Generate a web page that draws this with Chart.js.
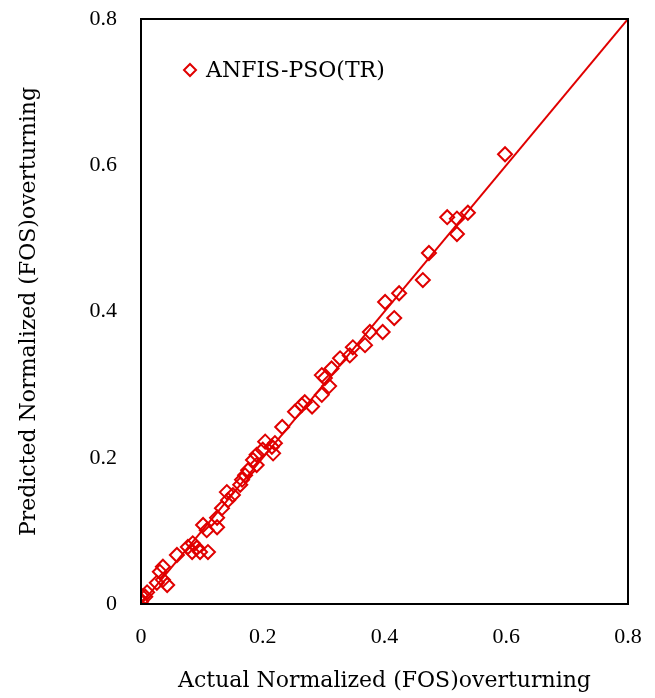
<!DOCTYPE html>
<html lang="en">
<head>
  <meta charset="UTF-8">
  <title>ANFIS-PSO(TR) - Actual vs Predicted</title>
  <script src="https://cdn.jsdelivr.net/npm/chart.js"></script>
  <style>
    html, body { margin: 0; padding: 0; background: white; }
    .wrap { width: 655px; height: 698px; }
  </style>
</head>
<body>
  <div class="wrap"><canvas id="fosChart" width="655" height="698"></canvas></div>

  <script>
    // actual vs predicted normalized (FOS)overturning
    const actual = [
      0.598, 0.503, 0.519, 0.537, 0.519, 0.473, 0.463, 0.424, 0.401, 0.416,
      0.397, 0.376, 0.368, 0.348, 0.343, 0.327, 0.313, 0.297, 0.302, 0.309,
      0.297, 0.269, 0.281, 0.264, 0.253, 0.232, 0.204, 0.215, 0.200, 0.190,
      0.217, 0.220, 0.184, 0.190, 0.176, 0.171, 0.166, 0.163, 0.141, 0.151,
      0.143, 0.133, 0.125, 0.102, 0.108, 0.125, 0.085, 0.077, 0.092, 0.084,
      0.097, 0.110, 0.059, 0.036, 0.031, 0.036, 0.043, 0.026, 0.010, 0.000,
      0.000, 0.007
    ];
    const predicted = [
      0.615, 0.529, 0.527, 0.535, 0.506, 0.480, 0.443, 0.425, 0.413, 0.391,
      0.372, 0.372, 0.354, 0.351, 0.340, 0.336, 0.322, 0.313, 0.309, 0.298,
      0.286, 0.276, 0.270, 0.272, 0.263, 0.242, 0.222, 0.215, 0.211, 0.204,
      0.206, 0.220, 0.197, 0.190, 0.183, 0.176, 0.170, 0.163, 0.153, 0.149,
      0.142, 0.131, 0.118, 0.108, 0.101, 0.105, 0.083, 0.078, 0.077, 0.071,
      0.071, 0.071, 0.067, 0.051, 0.044, 0.033, 0.026, 0.029, 0.016, 0.012,
      0.003, 0.010
    ];
    // fitted line end points
    const fitX = [0, 0.8];
    const fitY = [0, 0.8];
    const tickValues = [0, 0.2, 0.4, 0.6, 0.8];
    const seriesName = 'ANFIS-PSO(TR)';

    const red = '#e00000';
    const serif = "'Liberation Serif', 'DejaVu Serif', serif";
    const wideSerif = "'DejaVu Serif', 'Liberation Serif', serif";

    const points = actual.map((x, i) => ({ x: x, y: predicted[i] }));
    const fitLine = fitX.map((x, i) => ({ x: x, y: fitY[i] }));

    // black box round the plot + legend inside it
    const framePlugin = {
      id: 'frame',
      afterDraw(chart) {
        const { ctx, chartArea: a } = chart;
        ctx.save();
        ctx.strokeStyle = '#000';
        ctx.lineWidth = 2;
        ctx.strokeRect(a.left, a.top, a.right - a.left, a.bottom - a.top);

        // legend
        const lx = a.left + 49, ly = a.top + 51;
        ctx.strokeStyle = red;
        ctx.lineWidth = 2;
        ctx.beginPath();
        ctx.moveTo(lx, ly - 6);
        ctx.lineTo(lx + 6, ly);
        ctx.lineTo(lx, ly + 6);
        ctx.lineTo(lx - 6, ly);
        ctx.closePath();
        ctx.stroke();
        ctx.fillStyle = '#000';
        ctx.font = '22px ' + wideSerif;
        ctx.textBaseline = 'middle';
        ctx.fillText(seriesName, lx + 16, ly + 1);
        ctx.restore();
      }
    };

    new Chart(document.getElementById('fosChart'), {
      type: 'scatter',
      data: {
        datasets: [
          {
            label: seriesName,
            data: points,
            pointStyle: 'rectRot',
            pointRadius: 7,
            pointBorderWidth: 2,
            borderColor: red,
            backgroundColor: 'rgba(0,0,0,0)',
            order: 1
          },
          {
            label: 'fit',
            type: 'line',
            data: fitLine,
            borderColor: red,
            borderWidth: 2,
            pointRadius: 0,
            fill: false,
            order: 2
          }
        ]
      },
      options: {
        responsive: false,
        animation: false,
        layout: { padding: { left: 0, top: 19, right: 27, bottom: 0 } },
        plugins: { legend: { display: false }, tooltip: { enabled: false } },
        scales: {
          x: {
            type: 'linear',
            min: 0, max: 0.8,
            afterFit(scale) {
              scale.height = 94;
              scale.paddingLeft = 0;
              scale.paddingRight = 0;
            },
            afterBuildTicks(scale) { scale.ticks = tickValues.map(v => ({ value: v })); },
            grid: { display: false, drawTicks: false },
            border: { display: false },
            ticks: {
              color: '#000',
              padding: 20,
              font: { family: serif, size: 22 },
              callback: v => String(v)
            },
            title: {
              display: true,
              text: 'Actual Normalized (FOS)overturning',
              color: '#000',
              font: { family: wideSerif, size: 22 },
              padding: { top: 0, bottom: 4 }
            }
          },
          y: {
            type: 'linear',
            min: 0, max: 0.8,
            afterFit(scale) {
              scale.width = 141;
              scale.paddingTop = 0;
              scale.paddingBottom = 0;
            },
            afterBuildTicks(scale) { scale.ticks = tickValues.map(v => ({ value: v })); },
            grid: { display: false, drawTicks: false },
            border: { display: false },
            ticks: {
              color: '#000',
              padding: 24,
              font: { family: serif, size: 22 },
              callback: v => String(v)
            },
            title: {
              display: true,
              text: 'Predicted Normalized (FOS)overturning',
              color: '#000',
              font: { family: wideSerif, size: 22 },
              padding: { top: 16, bottom: 0 }
            }
          }
        }
      },
      plugins: [framePlugin]
    });
  </script>
</body>
</html>
